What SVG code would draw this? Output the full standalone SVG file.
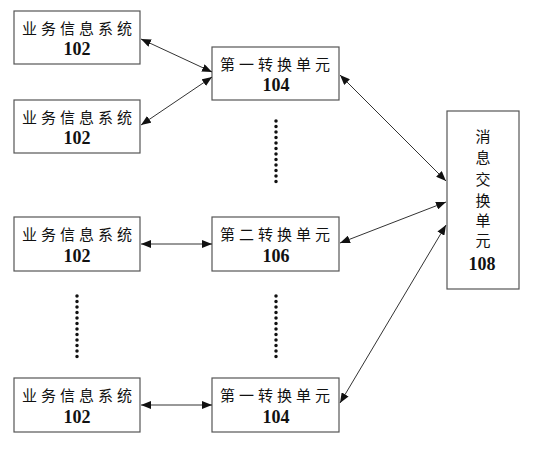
<svg xmlns="http://www.w3.org/2000/svg" width="537" height="450" viewBox="0 0 537 450">
<style>
.box{fill:#fff;stroke:#555;stroke-width:1.2}
.cn{font-family:"Noto Sans CJK SC","Liberation Serif",serif;font-size:15px;fill:#111;text-anchor:middle;letter-spacing:4px}
.cnv{font-family:"Noto Sans CJK SC","Liberation Serif",serif;font-size:15px;fill:#111;text-anchor:middle}
.num{font-family:"Liberation Serif",serif;font-weight:bold;font-size:18px;fill:#111;text-anchor:middle}
.ln{stroke:#333;stroke-width:1;fill:none;marker-start:url(#a);marker-end:url(#a)}
.dot{stroke:#111;stroke-width:3.5;stroke-linecap:round;stroke-dasharray:0 5.5;fill:none}
</style>
<defs>
<marker id="a" viewBox="0 0 10 8" refX="10" refY="4" markerWidth="10" markerHeight="8" markerUnits="userSpaceOnUse" orient="auto-start-reverse">
<path d="M0,0 L10,4 L0,8 Z" fill="#111"/>
</marker>
</defs>
<g id="n1"><rect class="box" x="14" y="11" width="126" height="53"/><text class="cn" x="79" y="34">业务信息系统</text><text class="num" x="77" y="55">102</text></g>
<g id="n2"><rect class="box" x="14" y="100" width="126" height="53"/><text class="cn" x="79" y="123">业务信息系统</text><text class="num" x="77" y="144">102</text></g>
<g id="n3"><rect class="box" x="14" y="217" width="126" height="54"/><text class="cn" x="79" y="240">业务信息系统</text><text class="num" x="77" y="262">102</text></g>
<g id="n4"><rect class="box" x="14" y="378" width="126" height="54"/><text class="cn" x="79" y="401">业务信息系统</text><text class="num" x="77" y="423">102</text></g>
<g id="n5"><rect class="box" x="212" y="47" width="127" height="53"/><text class="cn" x="277" y="70">第一转换单元</text><text class="num" x="276" y="91">104</text></g>
<g id="n6"><rect class="box" x="212" y="217" width="127" height="54"/><text class="cn" x="277" y="240">第二转换单元</text><text class="num" x="276" y="262">106</text></g>
<g id="n7"><rect class="box" x="212" y="378" width="127" height="54"/><text class="cn" x="277" y="401">第一转换单元</text><text class="num" x="276" y="423">104</text></g>
<g id="n8"><rect class="box" x="447" y="111" width="72" height="178"/>
<text class="cnv" x="483" y="142">消</text><text class="cnv" x="483" y="163">息</text><text class="cnv" x="483" y="185">交</text><text class="cnv" x="483" y="206">换</text><text class="cnv" x="483" y="226">单</text><text class="cnv" x="483" y="246">元</text><text class="num" x="482" y="270">108</text></g>
<g id="connectors">
<line class="ln" x1="141" y1="39" x2="212" y2="72"/>
<line class="ln" x1="141" y1="125" x2="212" y2="77"/>
<line class="ln" x1="141" y1="244" x2="212" y2="244"/>
<line class="ln" x1="141" y1="405" x2="212" y2="405"/>
<line class="ln" x1="340" y1="75" x2="446" y2="181"/>
<line class="ln" x1="340" y1="243" x2="446" y2="202"/>
<line class="ln" x1="340" y1="403" x2="446" y2="225"/>
</g>
<g id="dots">
<line class="dot" x1="276" y1="121" x2="276" y2="183"/>
<line class="dot" x1="77" y1="296" x2="77" y2="358"/>
<line class="dot" x1="276" y1="296" x2="276" y2="358"/>
</g>
</svg>
